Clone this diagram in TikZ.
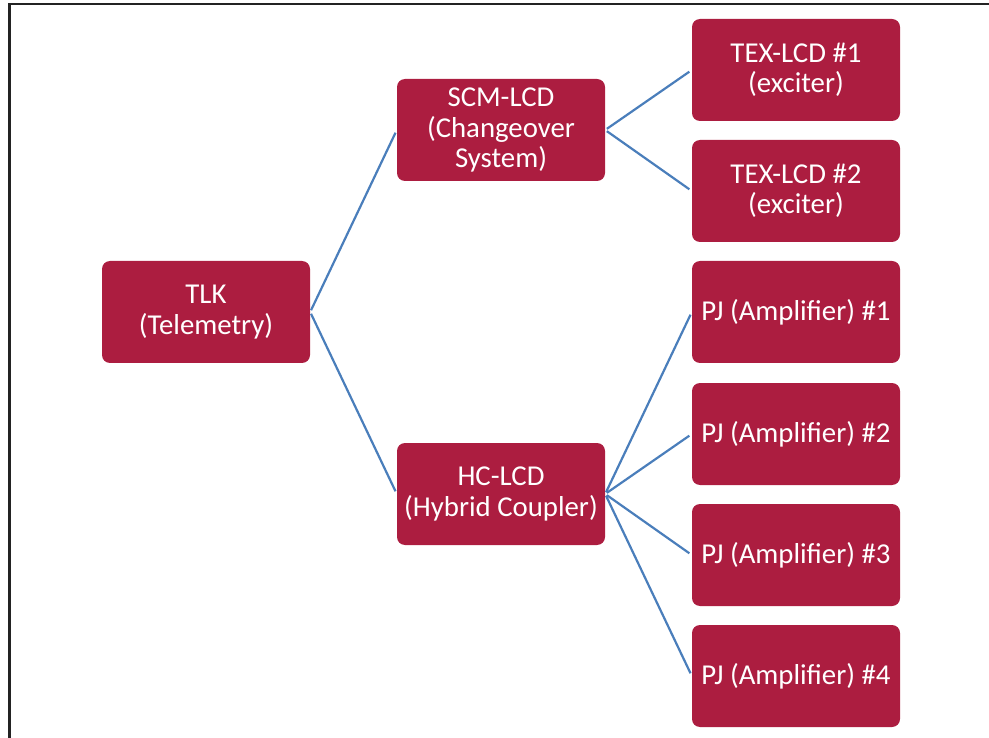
\documentclass[tikz,border=0pt]{standalone}
\usepackage{fontspec}
\setmainfont{Carlito}
\definecolor{boxred}{HTML}{AC1D40}
\definecolor{linkblue}{HTML}{4A7EBB}
\definecolor{framegray}{HTML}{232323}
\begin{document}
\begin{tikzpicture}[x=1pt,y=-1pt,
  box/.style={fill=boxred, rounded corners=8pt, minimum width=208pt, minimum height=102pt,
    inner sep=0pt, text=white, align=center, font=\fontsize{28.8}{30.5}\selectfont},
  link/.style={draw=linkblue, line width=2.2pt}]
\useasboundingbox (0,0) rectangle (989,738);
\draw[framegray, line width=2.8pt] (9.5,738) -- (9.5,4) -- (989,4);
\node[box] (tlk) at (206,312) {TLK\\(Telemetry)};
\node[box] (scm) at (501,130) {SCM-LCD\\(Changeover\\System)};
\node[box] (hc) at (501,494) {HC-LCD\\(Hybrid Coupler)};
\node[box] (tex1) at (796,70) {TEX-LCD \#1\\(exciter)};
\node[box] (tex2) at (796,191) {TEX-LCD \#2\\(exciter)};
\node[box] (pj1) at (796,312) {PJ (Amplifier) \#1};
\node[box] (pj2) at (796,434) {PJ (Amplifier) \#2};
\node[box] (pj3) at (796,555) {PJ (Amplifier) \#3};
\node[box] (pj4) at (796,676) {PJ (Amplifier) \#4};
\foreach \a/\b in {tlk/scm, tlk/hc, scm/tex1, scm/tex2, hc/pj1, hc/pj2, hc/pj3, hc/pj4}
  \draw[link, shorten <=2pt, shorten >=3pt] (\a.east) -- (\b.west);
\end{tikzpicture}
\end{document}
